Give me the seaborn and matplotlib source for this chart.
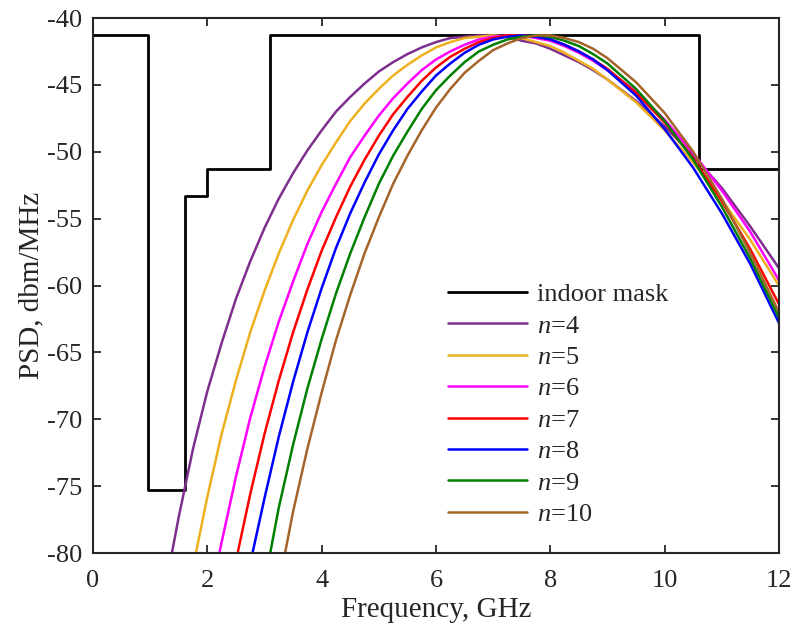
import pandas as pd
import numpy as np
import matplotlib
matplotlib.use('Agg')
import matplotlib.pyplot as plt
import seaborn as sns

# ------------------------------------------------------------------
# Data
# ------------------------------------------------------------------
# indoor emission mask (step edges in GHz and level in dBm/MHz)
mask_edges = [0, 0.96, 1.61, 1.99, 3.1, 10.6, 12]
mask_level = [-41.3, -75.3, -53.3, -51.3, -41.3, -51.3, -51.3]

# frequency grid (GHz) used for reading the pulse spectra
freq = [1.5, 1.75, 2.0, 2.25, 2.5, 2.75, 3.0, 3.25, 3.5, 3.75, 4.0, 4.25,
        4.5, 4.75, 5.0, 5.25, 5.5, 5.75, 6.0, 6.25, 6.5, 6.75, 7.0, 7.25,
        7.5, 7.75, 8.0, 8.25, 8.5, 8.75, 9.0, 9.5, 10.0, 10.5, 11.0, 11.5, 12.0]

# where each curve enters the plot at -80 dBm/MHz
start_freq = {4: 1.38, 5: 1.80, 6: 2.21, 7: 2.53, 8: 2.79, 9: 3.10, 10: 3.36}

# PSD values (dBm/MHz) on the tail of the grid
psd_n4 = [-77.3, -72.2, -67.9, -64.3, -61.0, -58.2, -55.7, -53.5, -51.6, -49.9,
          -48.4, -47.0, -45.9, -44.9, -44.0, -43.3, -42.7, -42.2, -41.8, -41.5,
          -41.4, -41.3, -41.3, -41.4, -41.7, -41.9, -42.3, -42.8, -43.3, -43.9,
          -44.6, -46.2, -48.1, -50.3, -52.7, -55.6, -58.7]
psd_n5 = [-75.8, -71.1, -67.1, -63.5, -60.4, -57.6, -55.1, -52.9, -51.0, -49.3,
          -47.7, -46.4, -45.3, -44.3, -43.5, -42.8, -42.2, -41.8, -41.5, -41.4,
          -41.3, -41.4, -41.5, -41.8, -42.1, -42.6, -43.2, -43.8, -44.6, -46.3,
          -48.4, -50.8, -53.6, -56.6, -60.0]
psd_n6 = [-79.2, -74.3, -69.9, -66.1, -62.7, -59.7, -56.9, -54.5, -52.4, -50.4,
          -48.8, -47.3, -46.0, -44.9, -43.9, -43.1, -42.5, -42.0, -41.6, -41.4,
          -41.3, -41.3, -41.5, -41.7, -42.1, -42.6, -43.2, -43.9, -45.5, -47.6,
          -50.1, -52.9, -56.0, -59.6]
psd_n7 = [-75.6, -71.1, -67.1, -63.5, -60.3, -57.4, -54.9, -52.6, -50.6, -48.8,
          -47.2, -45.9, -44.7, -43.7, -42.9, -42.3, -41.8, -41.5, -41.3, -41.3,
          -41.4, -41.6, -42.0, -42.5, -43.1, -43.8, -45.6, -47.8, -50.5, -53.7,
          -57.3, -61.4]
psd_n8 = [-75.9, -71.3, -67.2, -63.5, -60.2, -57.2, -54.6, -52.3, -50.2, -48.4,
          -46.8, -45.5, -44.3, -43.4, -42.6, -42.0, -41.6, -41.4, -41.3, -41.4,
          -41.6, -42.0, -42.5, -43.1, -43.9, -45.8, -48.3, -51.2, -54.6, -58.4,
          -62.8]
psd_n9 = [-76.6, -71.9, -67.7, -64.0, -60.6, -57.6, -54.9, -52.4, -50.3, -48.5,
          -46.8, -45.4, -44.3, -43.3, -42.5, -42.0, -41.6, -41.4, -41.3, -41.4,
          -41.7, -42.1, -42.7, -43.4, -45.3, -47.7, -50.6, -54.1, -58.0, -62.4]
psd_n10 = [-76.9, -72.2, -68.0, -64.1, -60.7, -57.6, -54.9, -52.4, -50.3, -48.4,
           -46.7, -45.3, -44.1, -43.2, -42.4, -41.9, -41.5, -41.3, -41.3, -41.5,
           -41.8, -42.3, -43.0, -44.8, -47.1, -50.0, -53.5, -57.6, -62.0]

psd = {4: psd_n4, 5: psd_n5, 6: psd_n6, 7: psd_n7, 8: psd_n8, 9: psd_n9, 10: psd_n10}

colors = {4: '#7E2F8E', 5: '#EDB120', 6: '#FF00FF', 7: '#FF0000',
          8: '#0000FF', 9: '#008000', 10: '#A5642A'}

# long format table for seaborn
rows = []
for n, vals in psd.items():
    label = f'$n$={n}'
    rows.append((label, start_freq[n], -80.0))
    for f, v in zip(freq[len(freq) - len(vals):], vals):
        rows.append((label, f, v))
df = pd.DataFrame(rows, columns=['curve', 'freq', 'psd'])
mask_df = pd.DataFrame({'freq': mask_edges, 'psd': mask_level})

# ------------------------------------------------------------------
# Plot
# ------------------------------------------------------------------
sns.set_style('ticks')
plt.rcParams['font.family'] = ['Liberation Serif', 'DejaVu Serif']
plt.rcParams['mathtext.fontset'] = 'custom'
plt.rcParams['mathtext.it'] = 'Liberation Serif:italic'
plt.rcParams['mathtext.rm'] = 'Liberation Serif'
plt.rcParams['axes.unicode_minus'] = False

fig = plt.figure(figsize=(7.93, 6.32), dpi=100)
ax = fig.add_axes([0.1173, 0.125, 0.865, 0.8465])

sns.lineplot(data=mask_df, x='freq', y='psd', ax=ax, color='black',
             linewidth=2.0, drawstyle='steps-post', label='indoor mask')
sns.lineplot(data=df, x='freq', y='psd', hue='curve', ax=ax, sort=False,
             estimator=None, linewidth=1.8,
             palette={f'$n$={n}': c for n, c in colors.items()})

ax.set_xlim(0, 12)
ax.set_ylim(-80, -40)
ax.set_xticks(np.arange(0, 13, 2))
ax.set_yticks(np.arange(-80, -39, 5))
ax.tick_params(direction='in', top=True, right=True, length=6, width=1.3,
               labelsize=19)
ax.tick_params(axis='x', pad=12)
ax.tick_params(axis='y', pad=8)
for sp in ax.spines.values():
    sp.set_linewidth(1.5)
    sp.set_visible(True)

ax.set_xlabel('Frequency, GHz', fontsize=21, labelpad=4)
ax.set_ylabel('PSD, dbm/MHz', fontsize=21, labelpad=2)

ax.legend(loc='upper left', bbox_to_anchor=(0.517, 0.505), frameon=False,
          fontsize=19, handlelength=3.0, handletextpad=0.4,
          labelspacing=0.3, borderpad=0, borderaxespad=0)

fig.savefig('out.png', dpi=100)
